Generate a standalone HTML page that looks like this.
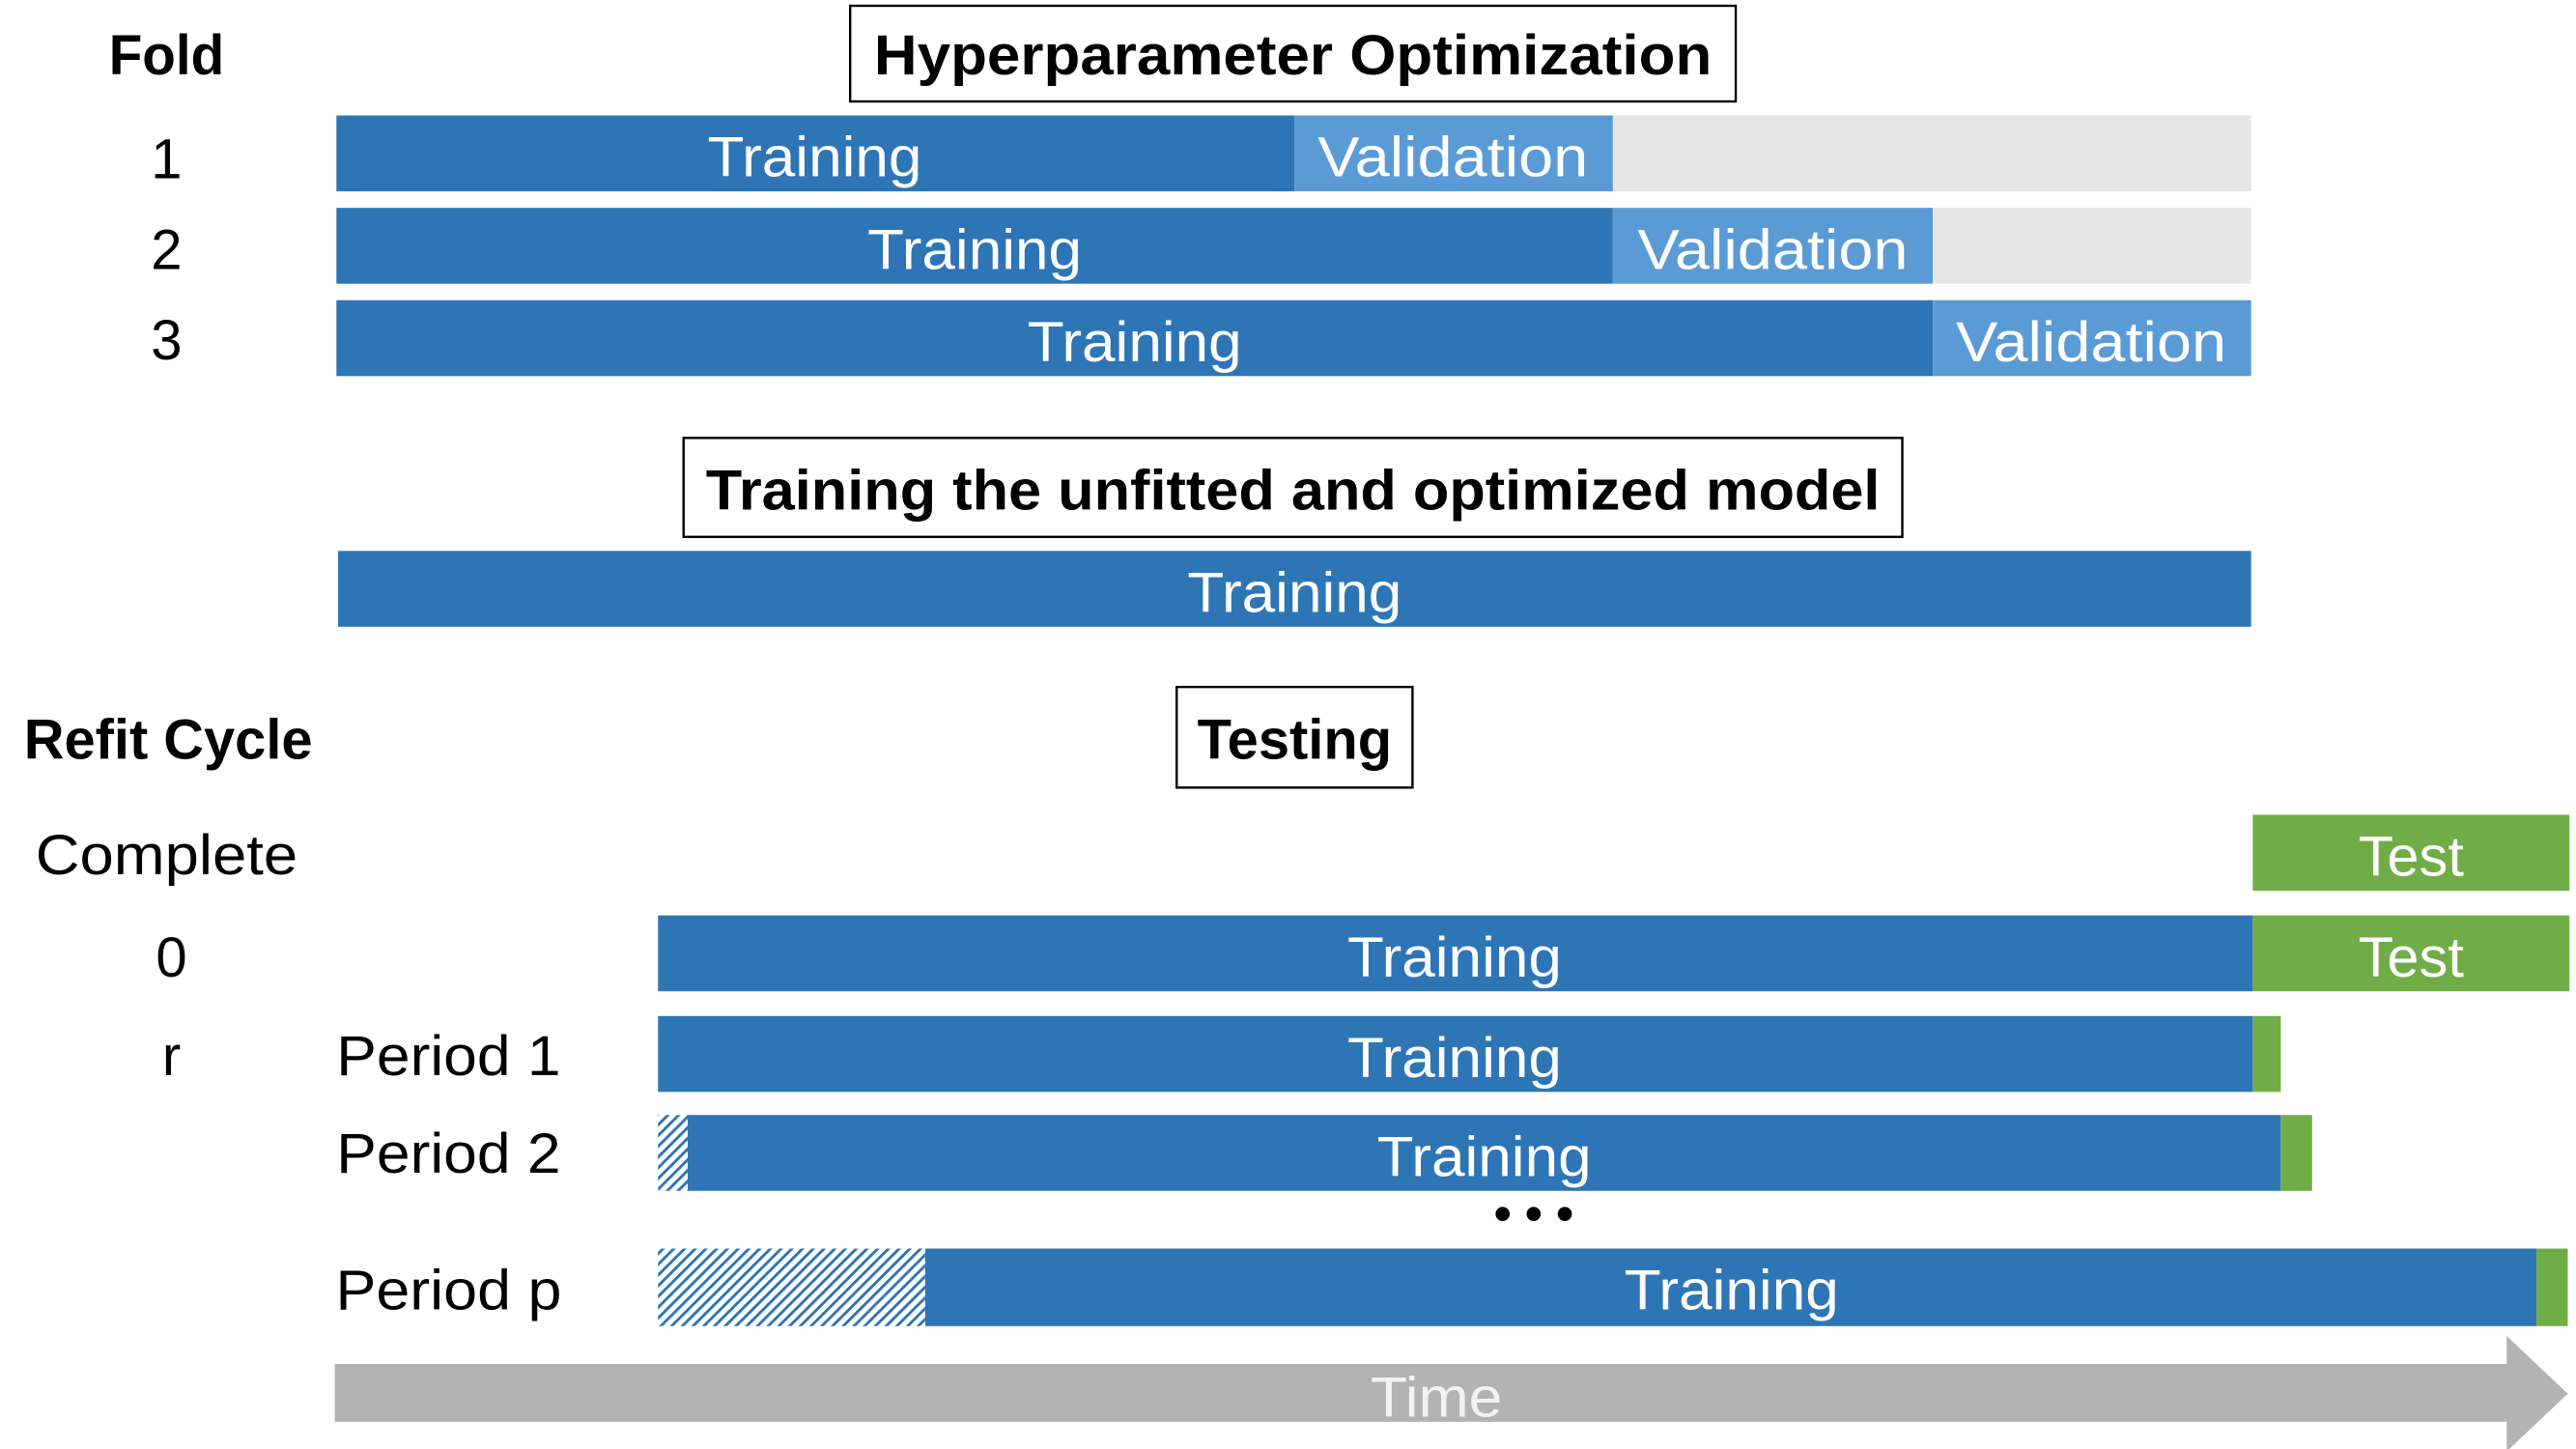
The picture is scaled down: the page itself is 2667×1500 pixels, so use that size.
<!DOCTYPE html>
<html><head><meta charset="utf-8"><style>html,body{margin:0;padding:0;background:#fff}svg{display:block}</style></head>
<body>
<svg width="2667" height="1500" viewBox="0 0 1562 878.5" xmlns="http://www.w3.org/2000/svg" font-family="Liberation Sans, sans-serif">
<defs>
<pattern id="h" width="4.6" height="4.6" patternUnits="userSpaceOnUse" patternTransform="rotate(45)">
<rect width="4.6" height="4.6" fill="#fff"/><rect width="1.7" height="4.6" fill="#2e75b6"/>
</pattern>
</defs>
<g fill="#000" font-size="34" text-anchor="middle" lengthAdjust="spacingAndGlyphs">
<text x="101" y="45" font-weight="bold" textLength="70" lengthAdjust="spacingAndGlyphs">Fold</text>
<text x="101" y="108">1</text>
<text x="101" y="163">2</text>
<text x="101" y="218">3</text>
<text x="102" y="460" font-weight="bold" textLength="175" lengthAdjust="spacingAndGlyphs">Refit Cycle</text>
<text x="101" y="530" textLength="159" lengthAdjust="spacingAndGlyphs">Complete</text>
<text x="104" y="592">0</text>
<text x="104" y="652">r</text>
<text x="272" y="652" textLength="136" lengthAdjust="spacingAndGlyphs">Period 1</text>
<text x="272" y="711" textLength="136" lengthAdjust="spacingAndGlyphs">Period 2</text>
<text x="272" y="794" textLength="137" lengthAdjust="spacingAndGlyphs">Period p</text>
</g>
<!-- title boxes -->
<rect x="515.5" y="3.5" width="537" height="58" fill="#fff" stroke="#000" stroke-width="1.4"/>
<text x="784" y="45" font-size="34" font-weight="bold" text-anchor="middle" textLength="508" lengthAdjust="spacingAndGlyphs">Hyperparameter Optimization</text>
<rect x="414.5" y="265.5" width="739" height="60" fill="#fff" stroke="#000" stroke-width="1.4"/>
<text x="784" y="309" font-size="34" font-weight="bold" text-anchor="middle" textLength="712" lengthAdjust="spacingAndGlyphs">Training the unfitted and optimized model</text>
<rect x="713.5" y="416.5" width="143" height="61" fill="#fff" stroke="#000" stroke-width="1.4"/>
<text x="785" y="460" font-size="34" font-weight="bold" text-anchor="middle" textLength="118" lengthAdjust="spacingAndGlyphs">Testing</text>
<!-- fold bars -->
<rect x="204" y="70" width="581" height="46" fill="#2e75b6"/>
<rect x="785" y="70" width="193" height="46" fill="#5b9bd5"/>
<rect x="978" y="70" width="387" height="46" fill="#e6e6e6"/>
<rect x="204" y="126" width="774" height="46" fill="#2e75b6"/>
<rect x="978" y="126" width="194" height="46" fill="#5b9bd5"/>
<rect x="1172" y="126" width="193" height="46" fill="#e6e6e6"/>
<rect x="204" y="182" width="968" height="46" fill="#2e75b6"/>
<rect x="1172" y="182" width="193" height="46" fill="#5b9bd5"/>
<rect x="205" y="334" width="1160" height="46" fill="#2e75b6"/>
<!-- testing bars -->
<rect x="1366" y="494" width="192" height="46" fill="#70ad47"/>
<rect x="399" y="555" width="967" height="46" fill="#2e75b6"/>
<rect x="1366" y="555" width="192" height="46" fill="#70ad47"/>
<rect x="399" y="616" width="967" height="46" fill="#2e75b6"/>
<rect x="1366" y="616" width="17" height="46" fill="#70ad47"/>
<rect x="399" y="676" width="18" height="46" fill="url(#h)"/>
<rect x="417" y="676" width="966" height="46" fill="#2e75b6"/>
<rect x="1383" y="676" width="19" height="46" fill="#70ad47"/>
<rect x="399" y="757" width="162" height="47" fill="url(#h)"/>
<rect x="561" y="757" width="977" height="47" fill="#2e75b6"/>
<rect x="1538" y="757" width="19" height="47" fill="#70ad47"/>
<text x="930" y="746" font-size="30" font-weight="bold" text-anchor="middle">• • •</text>
<!-- time arrow -->
<polygon points="203,827 1520,827 1520,810 1557,845 1520,880 1520,862 203,862" fill="#b3b3b3"/>
<g fill="#fff" font-size="34" text-anchor="middle">
<text x="494" y="107" textLength="130" lengthAdjust="spacingAndGlyphs">Training</text>
<text x="881" y="107" textLength="164" lengthAdjust="spacingAndGlyphs">Validation</text>
<text x="591" y="163" textLength="130" lengthAdjust="spacingAndGlyphs">Training</text>
<text x="1075" y="163" textLength="164" lengthAdjust="spacingAndGlyphs">Validation</text>
<text x="688" y="219" textLength="130" lengthAdjust="spacingAndGlyphs">Training</text>
<text x="1268" y="219" textLength="164" lengthAdjust="spacingAndGlyphs">Validation</text>
<text x="785" y="371" textLength="130" lengthAdjust="spacingAndGlyphs">Training</text>
<text x="1462" y="531" textLength="64" lengthAdjust="spacingAndGlyphs">Test</text>
<text x="882" y="592" textLength="130" lengthAdjust="spacingAndGlyphs">Training</text>
<text x="1462" y="592" textLength="64" lengthAdjust="spacingAndGlyphs">Test</text>
<text x="882" y="653" textLength="130" lengthAdjust="spacingAndGlyphs">Training</text>
<text x="900" y="713" textLength="130" lengthAdjust="spacingAndGlyphs">Training</text>
<text x="1050" y="794" textLength="130" lengthAdjust="spacingAndGlyphs">Training</text>
<text x="871" y="859" textLength="80" lengthAdjust="spacingAndGlyphs" fill="#f2f2f2">Time</text>
</g>
</svg>
</body></html>
